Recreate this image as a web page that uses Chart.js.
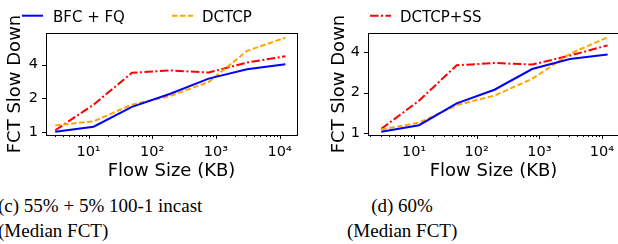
<!DOCTYPE html>
<html>
<head>
<meta charset="utf-8">
<script src="https://cdn.jsdelivr.net/npm/chart.js@4.4.0/dist/chart.umd.min.js"></script>
<style>
  html, body { margin: 0; padding: 0; background: #fff; }
  body { width: 618px; height: 244px; overflow: hidden; position: relative; font-family: "DejaVu Sans", sans-serif; color: #000; }
  canvas { position: absolute; top: 0; }
  #left { left: 0; }
  #right { left: 310px; }
  .key { position: absolute; top: 10px; font-size: 15px; line-height: 15px; white-space: nowrap; }
  .swatch { position: absolute; top: 10px; }
  .caption { position: absolute; top: 193px; font-family: "Liberation Serif", "Times New Roman", serif; font-size: 19px; line-height: 25px; white-space: nowrap; }
</style>
</head>
<body>
<canvas id="left" width="310" height="190"></canvas>
<canvas id="right" width="320" height="190"></canvas>

<svg class="swatch" style="left:22px" width="21" height="12"><line x1="0" y1="5.7" x2="21" y2="5.7" stroke="#0000ff" stroke-width="2"/></svg>
<div class="key" style="left:53px">BFC + FQ</div>
<svg class="swatch" style="left:172px" width="21" height="12"><line x1="0" y1="5.7" x2="21" y2="5.7" stroke="#ffa500" stroke-width="2" stroke-dasharray="5.5 2.5"/></svg>
<div class="key" style="left:202px">DCTCP</div>
<svg class="swatch" style="left:370px" width="21" height="12"><line x1="0" y1="5.7" x2="21" y2="5.7" stroke="#ff0000" stroke-width="2" stroke-dasharray="8.5 2.5 2 2.5"/></svg>
<div class="key" style="left:400px">DCTCP+SS</div>

<div class="caption" style="left:-2px">(c) 55% + 5% 100-1 incast<br>(Median FCT)</div>
<div class="caption" style="left:347px; width:110px; text-align:center">(d) 60%<br>(Median FCT)</div>

<script>
const flowSizes = [3, 12, 48, 192, 768, 3072, 12288];

// (c) 55% + 5% 100-1 incast
const bfcIncast = [1.01, 1.12, 1.68, 2.2, 3.0, 3.64, 4.03];
const dctcpIncast = [1.15, 1.25, 1.76, 2.1, 2.8, 5.3, 6.95];
const dctcpSsIncast = [1.04, 1.76, 3.38, 3.55, 3.4, 4.17, 4.75];

// (d) 60%
const bfc60 = [1.02, 1.14, 1.66, 2.1, 3.0, 3.57, 3.85];
const dctcp60 = [1.06, 1.19, 1.61, 1.9, 2.53, 3.9, 5.18];
const dctcpSs60 = [1.07, 1.74, 3.2, 3.33, 3.24, 3.78, 4.51];

const yTicks = [1, 2, 4];
const xTickLabels = { 10: '10¹', 100: '10²', 1000: '10³', 10000: '10⁴' };

const font = '"DejaVu Sans", sans-serif';

// draws the axes box and the tick marks (minor ones shorter)
const frame = {
  id: 'frame',
  afterDraw(chart) {
    const { ctx, chartArea: a, scales: { x, y } } = chart;
    ctx.save();
    ctx.strokeStyle = '#000';
    ctx.lineWidth = 1;
    ctx.strokeRect(a.left + 0.5, a.top + 0.5, a.right - a.left, a.bottom - a.top);
    ctx.beginPath();
    x.ticks.forEach(t => {
      const px = Math.round(x.getPixelForValue(t.value)) + 0.5;
      ctx.moveTo(px, a.bottom);
      ctx.lineTo(px, a.bottom + (t.major ? 4 : 2));
    });
    y.ticks.forEach(t => {
      const py = Math.round(y.getPixelForValue(t.value)) + 0.5;
      ctx.moveTo(a.left, py);
      ctx.lineTo(a.left - 4, py);
    });
    ctx.stroke();
    ctx.restore();
  }
};

function line(label, values, color, dash) {
  return {
    label,
    data: flowSizes.map((s, i) => ({ x: s, y: values[i] })),
    borderColor: color,
    backgroundColor: color,
    borderWidth: 2,
    borderDash: dash,
    pointRadius: 0,
    tension: 0,
    fill: false
  };
}

function makeChart(id, bfc, dctcp, dctcpSs, o) {
  new Chart(document.getElementById(id), {
    type: 'line',
    data: {
      datasets: [
        line('BFC + FQ', bfc, '#0000ff', []),
        line('DCTCP', dctcp, '#ffa500', [5.5, 2.5]),
        line('DCTCP+SS', dctcpSs, '#ff0000', [8.5, 2.5, 2, 2.5])
      ]
    },
    options: {
      responsive: false,
      animation: false,
      layout: { padding: { top: 33, right: o.padRight, left: 0, bottom: 0 } },
      plugins: { legend: { display: false }, tooltip: { enabled: false } },
      scales: {
        x: {
          type: 'logarithmic',
          min: o.xMin,
          max: 18700,
          grid: { drawOnChartArea: false, color: 'transparent', tickLength: 4 },
          border: { display: false },
          ticks: {
            autoSkip: false, maxRotation: 0, padding: 5, color: '#000',
            font: { family: font, size: 14.5 },
            callback: v => xTickLabels[v] || ''
          },
          afterBuildTicks: s => {
            const ticks = [];
            for (let k = 0; k <= 4; k++) {
              for (let m = 1; m <= 9; m++) {
                const v = m * Math.pow(10, k);
                if (v >= s.min && v <= s.max) ticks.push({ value: v, major: m === 1 });
              }
            }
            s.ticks = ticks;
          },
          afterFit: s => { s.height = 55; },
          title: {
            display: true, text: 'Flow Size (KB)', color: '#000',
            font: { family: font, size: 18 }, padding: { top: 0, bottom: 8 }
          }
        },
        y: {
          type: 'logarithmic',
          min: o.yMin,
          max: o.yMax,
          grid: { drawOnChartArea: false, color: 'transparent', tickLength: 4 },
          border: { display: false },
          ticks: {
            padding: 4, color: '#000',
            font: { family: font, size: 14.5 },
            callback: v => String(v)
          },
          afterBuildTicks: s => { s.ticks = yTicks.map(v => ({ value: v })); },
          afterFit: s => { s.width = o.yWidth; },
          title: {
            display: true, text: 'FCT Slow Down', color: '#000',
            font: { family: font, size: 18 }, padding: { top: o.yTitlePad, bottom: 0 }
          }
        }
      }
    },
    plugins: [frame]
  });
}

makeChart('left', bfcIncast, dctcpIncast, dctcpSsIncast,
  { xMin: 2.15, yMin: 0.944, yMax: 7.65, yWidth: 46, padRight: 13, yTitlePad: 5 });
makeChart('right', bfc60, dctcp60, dctcpSs60,
  { xMin: 1.84, yMin: 0.963, yMax: 5.58, yWidth: 58, padRight: 11, yTitlePad: 19 });
</script>
</body>
</html>
